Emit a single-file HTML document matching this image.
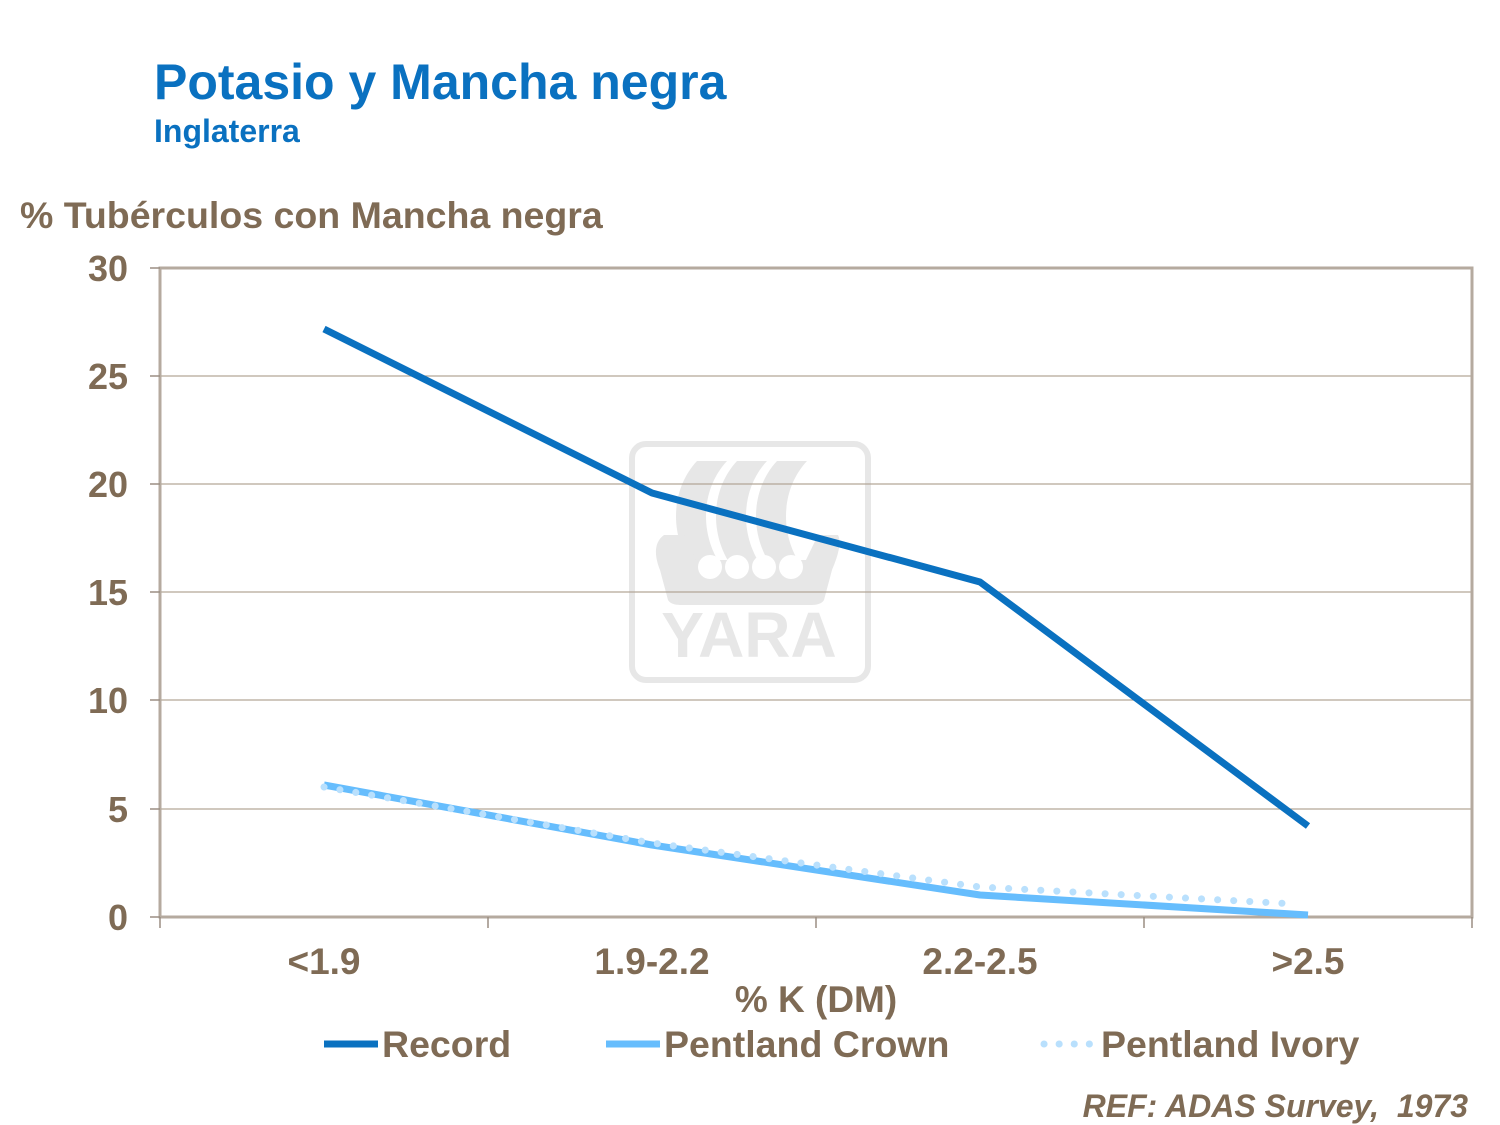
<!DOCTYPE html>
<html><head><meta charset="utf-8"><style>
body{margin:0;background:#fff;}
svg{display:block;font-family:"Liberation Sans",Arial,sans-serif;}
</style></head><body>
<svg width="1500" height="1125" viewBox="0 0 1500 1125">
<rect width="1500" height="1125" fill="#fff"/>
<text x="154" y="99" font-size="50" font-weight="bold" fill="#0a71c0">Potasio y Mancha negra</text>
<text x="154" y="142" font-size="32" font-weight="bold" fill="#0a71c0">Inglaterra</text>
<text x="20" y="228" font-size="37.5" font-weight="bold" fill="#7f6b55">% Tubérculos con Mancha negra</text>
<!-- logo -->
<g fill="#e7e7e7">
<rect x="632" y="444" width="236" height="236" rx="14" fill="none" stroke="#e7e7e7" stroke-width="6"/>
<path d="M697 461 h30 c-28 30 -28 80 0 112 h-30 c-28 -32 -28 -82 0 -112z"/>
<path d="M737 461 h30 c-28 30 -28 80 0 112 h-30 c-28 -32 -28 -82 0 -112z"/>
<path d="M777 461 h30 c-28 30 -28 80 0 112 h-30 c-28 -32 -28 -82 0 -112z"/>
<path d="M664 535 h20 l12 25 h110 l12 -25 h20 c5 10 -4 30 -6 35 l-8 30 c-3 5 -10 5 -15 5 h-126 c-5 0 -12 0 -15 -5 l-8 -30 c-2 -5 -10 -25 4 -35z"/>
<text x="749" y="657" font-size="64" font-weight="bold" text-anchor="middle">YARA</text>
</g>
<g fill="#fff"><circle cx="710" cy="567" r="12"/><circle cx="737" cy="567" r="12"/><circle cx="764" cy="567" r="12"/><circle cx="791" cy="567" r="12"/></g>
<!-- grid -->
<g stroke="#b3a697" stroke-width="1.2">
<line x1="160" y1="376" x2="1472" y2="376"/><line x1="160" y1="484" x2="1472" y2="484"/>
<line x1="160" y1="592" x2="1472" y2="592"/><line x1="160" y1="700" x2="1472" y2="700"/>
<line x1="160" y1="809" x2="1472" y2="809"/>
</g>
<rect x="160" y="268" width="1312" height="649" fill="none" stroke="#b5aa9f" stroke-width="3"/>
<g stroke="#9a8e82" stroke-width="1.5">
<line x1="150" y1="268" x2="160" y2="268"/><line x1="150" y1="376" x2="160" y2="376"/><line x1="150" y1="484" x2="160" y2="484"/>
<line x1="150" y1="592" x2="160" y2="592"/><line x1="150" y1="700" x2="160" y2="700"/><line x1="150" y1="809" x2="160" y2="809"/><line x1="150" y1="917" x2="160" y2="917"/>
<line x1="160" y1="917" x2="160" y2="928"/><line x1="488" y1="917" x2="488" y2="928"/><line x1="816" y1="917" x2="816" y2="928"/><line x1="1144" y1="917" x2="1144" y2="928"/><line x1="1472" y1="917" x2="1472" y2="928"/>
</g>
<g font-size="36" font-weight="bold" fill="#7f6b55" text-anchor="end">
<text x="128" y="281">30</text><text x="128" y="389">25</text><text x="128" y="497">20</text>
<text x="128" y="605">15</text><text x="128" y="713">10</text><text x="128" y="822">5</text><text x="128" y="930">0</text>
</g>
<g font-size="37" font-weight="bold" fill="#7f6b55" text-anchor="middle">
<text x="324" y="974">&lt;1.9</text><text x="652" y="974">1.9-2.2</text><text x="980" y="974">2.2-2.5</text><text x="1308" y="974">&gt;2.5</text>
<text x="816" y="1012">% K (DM)</text>
</g>
<!-- series -->
<polyline points="324,785 652,845 980,895 1308,915" fill="none" stroke="#66bdfd" stroke-width="7" stroke-linejoin="round"/>
<polyline points="324,787 652,843 980,887 1296,904" fill="none" stroke="#b9e0fd" stroke-width="7" stroke-linecap="round" stroke-dasharray="0.1 16"/>
<polyline points="324,329 652,493 980,582 1308,826" fill="none" stroke="#0a71c0" stroke-width="7" stroke-linejoin="round"/>
<!-- legend -->
<line x1="324" y1="1044" x2="378" y2="1044" stroke="#0a71c0" stroke-width="7"/>
<line x1="606" y1="1044" x2="660" y2="1044" stroke="#66bdfd" stroke-width="7"/>
<line x1="1044" y1="1044" x2="1094" y2="1044" stroke="#b9e0fd" stroke-width="7" stroke-linecap="round" stroke-dasharray="0.1 15"/>
<g font-size="37.5" font-weight="bold" fill="#7f6b55">
<text x="382" y="1057">Record</text><text x="664" y="1057">Pentland Crown</text><text x="1101" y="1057">Pentland Ivory</text>
</g>
<text x="1468" y="1117" font-size="32" font-weight="bold" font-style="italic" fill="#7f6b55" text-anchor="end" xml:space="preserve">REF: ADAS Survey,  1973</text>
</svg>
</body></html>
